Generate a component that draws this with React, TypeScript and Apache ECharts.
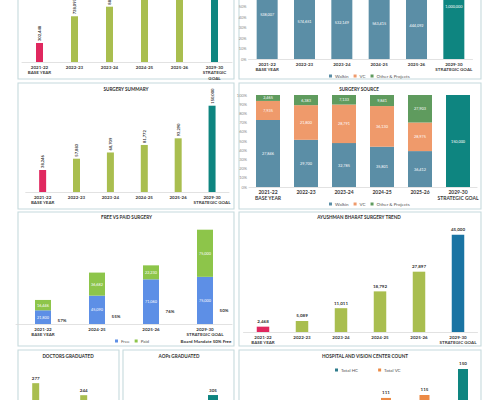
import React, { useEffect, useRef } from "react";
import * as echarts from "echarts";

// The canvas is taller than the window and shifted up, so the first row of panels is cut by the top edge.
const OFF = 70;
const H = 600;
const FONT = "Lato, 'Open Sans', sans-serif";

const PINK = "#e0285f";
const LIME = "#a9be4f";
const TEAL = "#0e8580";
const WALK = "#5b8ea6";
const ORANGE = "#ef9a6b";
const GREEN = "#5f9b5e";
const FREE = "#5d8fe6";
const PAID = "#8dc54a";
const BLUE = "#1a74a3";
const HOSP = "#ec8a45";
const HC = "#2f7c8c";

// Categories
const yearCats = ["2021-22\nBASE YEAR", "2022-23", "2023-24", "2024-25", "2025-26", "2029-30\nSTRATEGIC GOAL"];
const yearCatsNarrow = ["2021-22\nBASE YEAR", "2022-23", "2023-24", "2024-25", "2025-26", "2029-30\nSTRATEGIC\nGOAL"];
const fpCats = ["2021-22\nBASE YEAR", "2024-25", "2025-26", "2029-30\nSTRATEGIC GOAL"];
const docCats = ["2024-25", "2025-26"];
const aopCats = ["2021-22", "2025-26", "2029-30"];

// OPD
const opdTotals = [302448, 728097, 880512, 1050000, 1150000, 1300000];
const opdWalkin = [538007, 574651, 532149, 563415, 444092, 1000000];
const opdVC = [70000, 160000, 165000, 205000, 160000, 0];
const opdOther = [32500, 63500, 63000, 72500, 100800, 0];

// Surgery
const surgeryTotals = [38246, 57883, 68709, 81772, 93290, 150000];
const surgWalkin = [27846, 29700, 32785, 35801, 36412, 150000];
const surgVC = [7935, 21800, 28791, 36130, 28975, 0];
const surgOther = [2465, 6383, 7133, 9841, 27903, 0];

// Free vs paid
const freeVals = [21800, 45090, 71060, 75000];
const paidVals = [16446, 36682, 22230, 75000];

// Ayushman Bharat
const abVals = [2468, 5089, 11011, 18792, 27897, 45000];

// Training and centres
const docVals = [277, 244];
const aopVals = [120, 190, 305];
const hcVals = [6, 8, 10, 12, 14, 20];
const vcCountVals = [52, 68, 90, 111, 115, 150];

const fmt = (n: number) => n.toLocaleString("en-US");

const stepColors = (n: number, goal = TEAL) =>
  Array.from({ length: n }, (_, i) => (i === 0 ? PINK : i === n - 1 ? goal : LIME));

const pctOf = (a: number[], b: number[], c: number[]) =>
  a.map((v, i) => {
    const t = v + b[i] + c[i];
    return t ? (v / t) * 100 : 0;
  });

function buildOption() {
  const grids = [
    { left: 22, right: 268, top: 31.5, bottom: 468 },
    { left: 248.5, right: 27.5, top: 24, bottom: 471 },
    { left: 25.7, right: 271, top: 164.2, bottom: 338 },
    { left: 249, right: 23, top: 165, bottom: 343 },
    { left: 16, right: 268, top: 293.4, bottom: 206 },
    { left: 243.5, right: 22.5, top: 293.9, bottom: 198 },
    { left: 11.7, right: 392.3, top: 444.8, bottom: 46 },
    { left: 130.5, right: 270.5, top: 452.5, bottom: 50 },
    { left: 251.25, right: 17.75, top: 424.1, bottom: 49.6 },
  ];
  const cats = [yearCatsNarrow, yearCats, yearCats, yearCats, fpCats, yearCats, docCats, aopCats, yearCats];
  const maxes = [1600000, 100, 170000, 100, 160000, 50000, 300, 350, 170];
  const labelFont = [4.5, 4.5, 4.5, 5, 4.5, 4.5, 4.5, 4.5, 4.5];

  // the bottom row's category labels sit below the window, so they are not drawn
  const xAxis = cats.map((c, i) => ({
    type: "category",
    gridIndex: i,
    data: c,
    axisTick: { show: false },
    axisLine: { lineStyle: { color: "#dadada", width: 0.8 } },
    axisLabel: {
      show: i < 6,
      interval: 0,
      fontSize: labelFont[i],
      lineHeight: labelFont[i] + 0.9,
      fontWeight: "bold",
      color: "#3b3b3b",
      fontFamily: FONT,
      margin: 2.5,
    },
  }));

  const yAxis = maxes.map((m, i) => {
    const pct = i === 1 || i === 3;
    // upper ticks of the first-row share axis run past the top edge
    const maxTick = i === 1 ? 50 : 100;
    return {
      type: "value",
      gridIndex: i,
      min: 0,
      max: m,
      interval: pct ? 10 : undefined,
      show: pct,
      splitLine: { show: false },
      axisLine: { show: false },
      axisTick: { show: false },
      axisLabel: {
        fontSize: 4,
        color: "#8a8a8a",
        formatter: (v: number) => (v <= maxTick ? v + "%" : ""),
        margin: 2,
        fontFamily: FONT,
      },
    };
  });

  const rotLabel = {
    show: true,
    position: "top",
    rotate: 90,
    align: "left",
    verticalAlign: "middle",
    distance: 2,
    fontSize: 4.1,
    fontWeight: "bold",
    color: "#333",
    fontFamily: FONT,
    formatter: (p: any) => fmt(p.value),
  };
  const topLabel = {
    show: true,
    position: "top",
    distance: 2.5,
    fontSize: 4.5,
    fontWeight: "bold",
    color: "#333",
    fontFamily: FONT,
    formatter: (p: any) => fmt(p.value),
  };
  const inLabel = (raw: number[], show = true) => ({
    show,
    position: "inside",
    fontSize: 3.8,
    color: "#fff",
    fontFamily: FONT,
    formatter: (p: any) => (raw[p.dataIndex] ? fmt(raw[p.dataIndex]) : ""),
  });
  // items for which `labelled` is false carry no value label
  const colored = (vals: number[], colors: string[], labelled: (i: number) => boolean = () => true) =>
    vals.map((v, i) => ({
      value: v,
      itemStyle: { color: colors[i] },
      label: labelled(i) ? undefined : { show: false },
    }));

  const opdPct = [
    pctOf(opdWalkin, opdVC, opdOther),
    pctOf(opdVC, opdWalkin, opdOther),
    pctOf(opdOther, opdWalkin, opdVC),
  ];
  const surgPct = [
    pctOf(surgWalkin, surgVC, surgOther),
    pctOf(surgVC, surgWalkin, surgOther),
    pctOf(surgOther, surgWalkin, surgVC),
  ];
  const goalLast = (vals: number[], color: string) =>
    vals.map((v, i) => ({ value: v, itemStyle: { color: i === vals.length - 1 ? TEAL : color } }));

  const stackSeries = (
    idx: number,
    pct: number[][],
    raws: number[][],
    stack: string,
    width: number,
    upperLabels: boolean
  ) =>
    [
      { name: "Walkin", color: WALK },
      { name: "VC", color: ORANGE },
      { name: "Other & Projects", color: GREEN },
    ].map((s, k) => ({
      type: "bar",
      name: s.name,
      xAxisIndex: idx,
      yAxisIndex: idx,
      stack,
      barWidth: width,
      itemStyle: { color: s.color },
      data: k === 0 ? goalLast(pct[k], s.color) : pct[k].map((v) => (v ? v : "-")),
      label: inLabel(raws[k], k === 0 || upperLabels),
    }));

  const series: any[] = [
    {
      type: "bar",
      name: "OPD",
      xAxisIndex: 0,
      yAxisIndex: 0,
      barWidth: 7,
      data: colored(opdTotals, stepColors(6), (i) => i < 3),
      label: rotLabel,
    },
    ...stackSeries(1, opdPct, [opdWalkin, opdVC, opdOther], "opd", 21, false),
    {
      type: "bar",
      name: "Surgeries",
      xAxisIndex: 2,
      yAxisIndex: 2,
      barWidth: 7,
      data: colored(surgeryTotals, stepColors(6)),
      label: rotLabel,
    },
    ...stackSeries(3, surgPct, [surgWalkin, surgVC, surgOther], "surg", 24, true),
    {
      type: "bar",
      name: "Free",
      xAxisIndex: 4,
      yAxisIndex: 4,
      stack: "fp",
      barWidth: 16,
      itemStyle: { color: FREE },
      data: freeVals,
      label: inLabel(freeVals),
    },
    {
      type: "bar",
      name: "Paid",
      xAxisIndex: 4,
      yAxisIndex: 4,
      stack: "fp",
      barWidth: 16,
      itemStyle: { color: PAID },
      data: paidVals,
      label: inLabel(paidVals),
    },
    {
      type: "custom",
      name: "Free share",
      xAxisIndex: 4,
      yAxisIndex: 4,
      silent: true,
      z: 5,
      data: freeVals.map((v, i) => [i, v]),
      renderItem: (_params: any, api: any) => {
        const i = api.value(0);
        const v = api.value(1);
        const p = api.coord([i, v * 0.28]);
        const share = Math.round((freeVals[i] / (freeVals[i] + paidVals[i])) * 100);
        return {
          type: "text",
          x: p[0] + 19,
          y: p[1],
          style: {
            text: share + "%",
            fontSize: 4.5,
            fontWeight: "bold",
            fill: "#333",
            align: "center",
            verticalAlign: "middle",
            fontFamily: FONT,
          },
        };
      },
    },
    {
      type: "bar",
      name: "Ayushman Bharat",
      xAxisIndex: 5,
      yAxisIndex: 5,
      barWidth: 12.5,
      data: colored(abVals, stepColors(6, BLUE)),
      label: topLabel,
    },
    {
      type: "bar",
      name: "Doctors",
      xAxisIndex: 6,
      yAxisIndex: 6,
      barWidth: 7,
      itemStyle: { color: LIME },
      data: docVals,
      label: topLabel,
    },
    {
      type: "bar",
      name: "AOPs",
      xAxisIndex: 7,
      yAxisIndex: 7,
      barWidth: 10,
      data: colored(aopVals, [LIME, LIME, TEAL], (i) => i === aopVals.length - 1),
      label: topLabel,
    },
    {
      type: "bar",
      name: "Total HC",
      xAxisIndex: 8,
      yAxisIndex: 8,
      barWidth: 10,
      barGap: "-100%",
      itemStyle: { color: HC },
      data: hcVals,
    },
    {
      type: "bar",
      name: "Total VC",
      xAxisIndex: 8,
      yAxisIndex: 8,
      barWidth: 10,
      barGap: "-100%",
      itemStyle: { color: HOSP },
      data: vcCountVals.map((v, i) => ({
        value: v,
        itemStyle: { color: i === vcCountVals.length - 1 ? TEAL : HOSP },
        label: i >= 3 ? undefined : { show: false },
      })),
      label: topLabel,
    },
  ];

  const legendBase = {
    itemWidth: 3,
    itemHeight: 3,
    icon: "rect",
    itemGap: 5,
    textStyle: { fontSize: 4.5, color: "#555", fontFamily: FONT, padding: [0, 0, 0, -2] },
    padding: 0,
    selectedMode: false,
  };
  const legend = [
    { ...legendBase, data: ["Walkin", "VC", "Other & Projects"], left: 329, top: 143.5 },
    { ...legendBase, data: ["Walkin", "VC", "Other & Projects"], left: 329, top: 271.5 },
    { ...legendBase, data: ["Free", "Paid"], left: 115, top: 408.5 },
    { ...legendBase, data: ["Total HC", "Total VC"], left: 335, top: 437.5, itemGap: 20 },
  ];

  const panels = [
    [18, -60, 216, 139],
    [239, -60, 242, 139],
    [18, 83, 216, 126],
    [239, 83, 242, 126],
    [18, 212, 216, 134],
    [239, 212, 242, 134],
    [18, 350, 101, 140],
    [123, 350, 111, 140],
    [239, 350, 242, 140],
  ];
  const titles: [string, number, number][] = [
    ["SURGERY SUMMARY", 126, 89],
    ["SURGERY SOURCE", 359, 89],
    ["FREE VS PAID SURGERY", 126.5, 217],
    ["AYUSHMAN BHARAT SURGERY TREND", 359, 217],
    ["DOCTORS GRADUATED", 68, 355.5],
    ["AOPs GRADUATED", 179, 355.5],
    ["HOSPITAL AND VISION CENTER COUNT", 365, 355.5],
  ];

  const graphic: any[] = [
    ...panels.map(([x, y, w, h]) => ({
      type: "rect",
      z: -10,
      silent: true,
      shape: { x, y: y + OFF, width: w, height: h },
      style: { fill: "#fff", stroke: "#c6dadd", lineWidth: 1.1 },
    })),
    ...titles.map(([t, x, y]) => ({
      type: "text",
      silent: true,
      x,
      y: y + OFF,
      style: {
        text: t,
        fontSize: 4.6,
        fontWeight: "bold",
        fill: "#2f2f2f",
        align: "center",
        verticalAlign: "middle",
        fontFamily: FONT,
      },
    })),
    {
      type: "text",
      silent: true,
      x: 206,
      y: 341 + OFF,
      style: {
        text: "Board Mandate 50% Free",
        fontSize: 4.5,
        fontWeight: "bold",
        fill: "#333",
        align: "center",
        verticalAlign: "middle",
        fontFamily: FONT,
      },
    },
  ];

  return {
    animation: false,
    backgroundColor: "#ffffff",
    textStyle: { fontFamily: FONT },
    grid: grids,
    xAxis,
    yAxis,
    series,
    legend,
    graphic,
  };
}

export default function App() {
  const ref = useRef<HTMLDivElement>(null);
  useEffect(() => {
    if (!ref.current) return;
    const chart = echarts.init(ref.current, undefined, { renderer: "svg" });
    chart.setOption(buildOption() as any);
    return () => chart.dispose();
  }, []);
  return (
    <div
      style={{
        position: "fixed",
        left: 0,
        top: 0,
        width: 500,
        height: 400,
        overflow: "hidden",
        background: "#fff",
      }}
    >
      <div ref={ref} style={{ position: "absolute", left: 0, top: -OFF, width: 500, height: H }} />
    </div>
  );
}
